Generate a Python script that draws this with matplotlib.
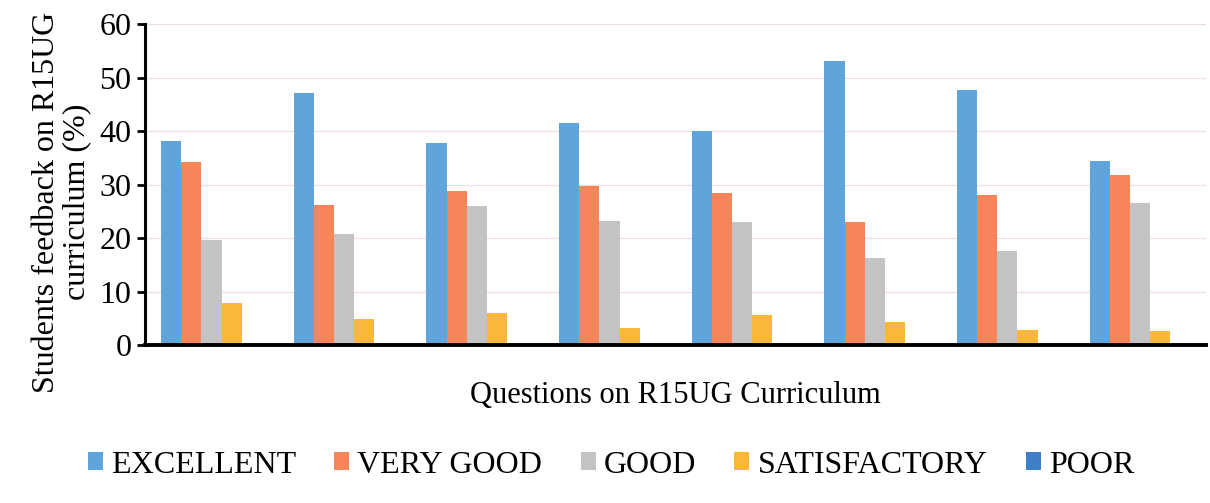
import numpy as np
import matplotlib
matplotlib.use("Agg")
import matplotlib.pyplot as plt

# feedback share per question (%)
questions = ["Q1", "Q2", "Q3", "Q4", "Q5", "Q6", "Q7", "Q8"]
excellent = [38.1, 47.1, 37.8, 41.5, 40.0, 53.1, 47.7, 34.4]
very_good = [34.2, 26.2, 28.8, 29.7, 28.4, 23.0, 28.0, 31.8]
good = [19.6, 20.7, 26.0, 23.2, 23.0, 16.3, 17.6, 26.5]
satisfactory = [7.8, 4.9, 6.0, 3.2, 5.6, 4.3, 2.8, 2.6]
poor = [0, 0, 0, 0, 0, 0, 0, 0]

series = [
    ("EXCELLENT", excellent, "#5fa5dc"),
    ("VERY GOOD", very_good, "#f7855a"),
    ("GOOD", good, "#c4c2c4"),
    ("SATISFACTORY", satisfactory, "#f9b73c"),
    ("POOR", poor, "#3f7fc9"),
]

plt.rcParams["font.family"] = ["Liberation Serif", "DejaVu Serif"]

fig = plt.figure(figsize=(12.1, 5.03), dpi=100)
ax = fig.add_axes([0.12, 0.314, 0.877, 0.638])

x = np.arange(len(questions))
w = 0.152
for i, (name, vals, col) in enumerate(series):
    ax.bar(x + (i - 2) * w, vals, width=w, color=col, label=name, zorder=2)

ax.set_xlim(-0.5, len(questions) - 0.5)
ax.set_ylim(0, 60)
ax.set_yticks(range(0, 61, 10))
ax.set_xticks([])
ax.grid(axis="y", color="#f0dde2", linewidth=0.9, zorder=0)
for side in ["top", "right"]:
    ax.spines[side].set_visible(False)
ax.spines["left"].set_linewidth(2.2)
ax.spines["bottom"].set_linewidth(2.8)
ax.tick_params(axis="y", labelsize=23, length=6, width=2, pad=4)

ax.set_ylabel("Students feedback on R15UG\ncurriculum (%)", fontsize=23,
              linespacing=1.05)
ax.yaxis.set_label_coords(-0.051, 0.445)
ax.set_xlabel("Questions on R15UG Curriculum", fontsize=22, labelpad=26)

fig.legend(*ax.get_legend_handles_labels(), loc="center",
           bbox_to_anchor=(0.505, 0.0755), ncol=5, frameon=False,
           fontsize=23, handlelength=0.47, handleheight=0.47, handletextpad=0.25,
           columnspacing=1.2)

fig.savefig("out.png", dpi=100)
